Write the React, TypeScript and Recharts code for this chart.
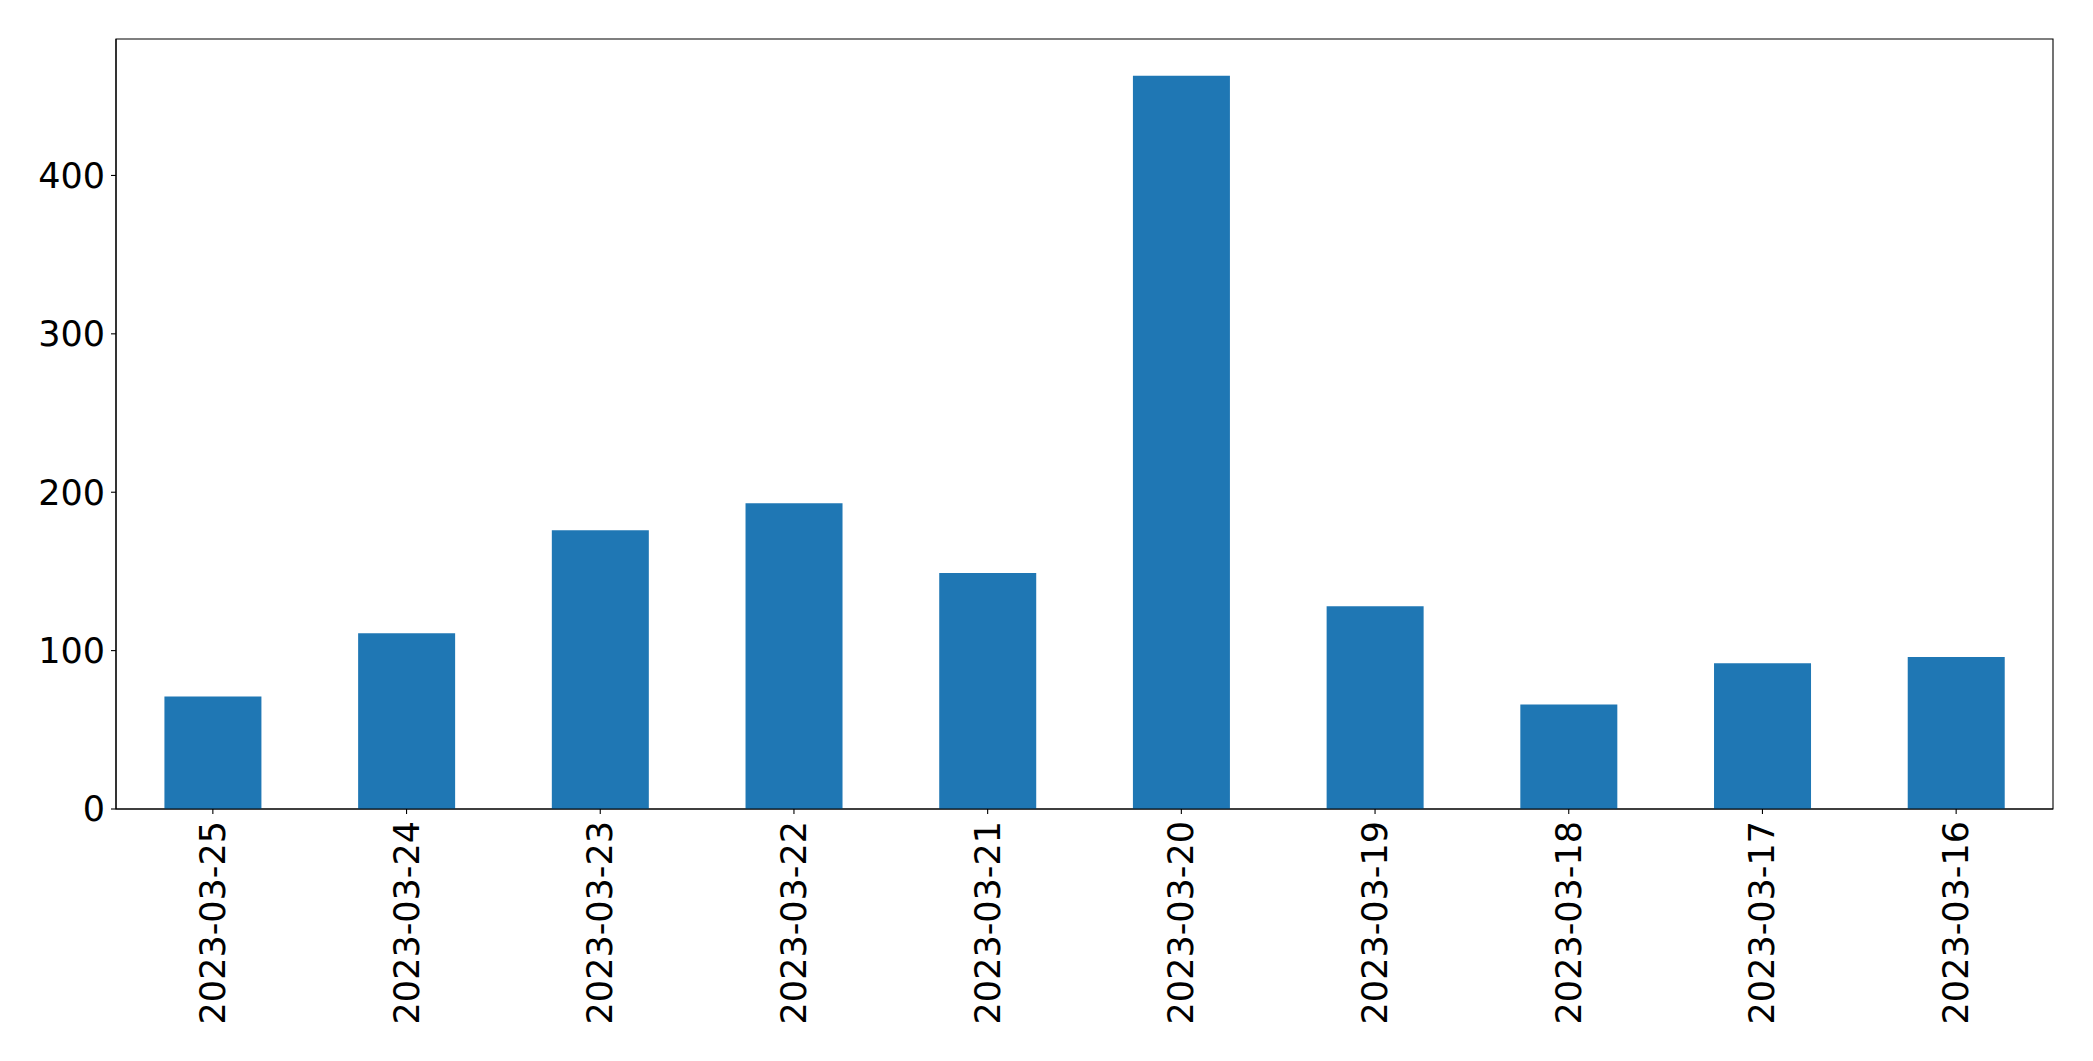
import React from "react";
import {
  BarChart,
  Bar,
  XAxis,
  YAxis,
  ReferenceArea,
} from "recharts";

// ---------------------------------------------------------------------------
// Data
// ---------------------------------------------------------------------------

const DATES = [
  "2023-03-25",
  "2023-03-24",
  "2023-03-23",
  "2023-03-22",
  "2023-03-21",
  "2023-03-20",
  "2023-03-19",
  "2023-03-18",
  "2023-03-17",
  "2023-03-16",
];

const COUNTS = [71, 111, 176, 193, 149, 463, 128, 66, 92, 96];

const Y_TICKS = [0, 100, 200, 300, 400];

const BAR_COLOR = "#1f77b4";
const FONT = "'DejaVu Sans', sans-serif";
const FONT_SIZE = 35;

// matplotlib-style headroom above the tallest bar
const Y_MAX = Math.max(...COUNTS) * 1.05;

const data = DATES.map((d, i) => ({ date: d, count: COUNTS[i] }));

// ---------------------------------------------------------------------------
// Rotated x tick
// ---------------------------------------------------------------------------

function DateTick(props: any) {
  const { x, y, payload } = props;
  return (
    <text
      x={0}
      y={0}
      transform={`translate(${x}, ${y + 5}) rotate(-90)`}
      textAnchor="end"
      dominantBaseline="central"
      fontFamily={FONT}
      fontSize={FONT_SIZE}
      fill="#000"
    >
      {payload.value}
    </text>
  );
}

// ---------------------------------------------------------------------------
// Chart
// ---------------------------------------------------------------------------

export default function App() {
  return (
    <div
      style={{
        position: "absolute",
        left: 0,
        top: 0,
        width: 2093,
        height: 1061,
        background: "#fff",
      }}
    >
      <BarChart
        width={2093}
        height={1061}
        data={data}
        margin={{ top: 39, right: 40, left: 0, bottom: 0 }}
        barCategoryGap="25%"
      >
        <XAxis
          dataKey="date"
          height={252}
          interval={0}
          tick={<DateTick />}
          tickSize={5}
          tickLine={{ stroke: "#000", strokeWidth: 1.1 }}
          axisLine={{ stroke: "#000", strokeWidth: 1.1 }}
        />
        <YAxis
          width={116}
          domain={[0, Y_MAX]}
          ticks={Y_TICKS}
          allowDataOverflow
          tickSize={5}
          tickMargin={6}
          tick={{ fontFamily: FONT, fontSize: FONT_SIZE, fill: "#000" }}
          tickLine={{ stroke: "#000", strokeWidth: 1.1 }}
          axisLine={{ stroke: "#000", strokeWidth: 1.1 }}
        />
        <Bar dataKey="count" fill={BAR_COLOR} isAnimationActive={false} />
        <ReferenceArea
          y1={0}
          y2={Y_MAX}
          fill="none"
          stroke="#000"
          strokeWidth={1.1}
          ifOverflow="visible"
        />
      </BarChart>
    </div>
  );
}
